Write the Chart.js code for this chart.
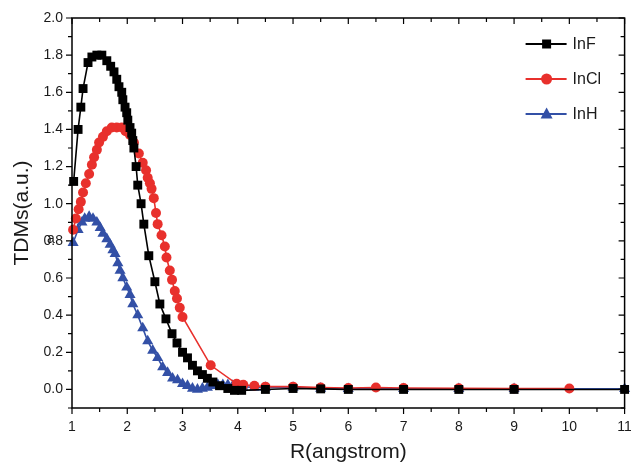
<!DOCTYPE html>
<html>
<head>
<meta charset="utf-8">
<script src="https://cdn.jsdelivr.net/npm/chart.js@4.4.1/dist/chart.umd.min.js"></script>
<style>
  html, body { margin: 0; background: #ffffff; }
  canvas { display: block; }
</style>
</head>
<body>
<canvas id="tdm" width="631" height="466"></canvas>
<script>
/* TDMs vs R for InF / InCl / InH */

const X_TICKS = [1, 2, 3, 4, 5, 6, 7, 8, 9, 10, 11];
const Y_TICKS = [0, 0.2, 0.4, 0.6, 0.8, 1.0, 1.2, 1.4, 1.6, 1.8, 2.0];

const INF_R = [1.03, 1.11, 1.16, 1.20, 1.29, 1.36, 1.45, 1.54, 1.63, 1.70, 1.76, 1.81, 1.85, 1.90, 1.92,
  1.96, 1.99, 2.01, 2.05, 2.08, 2.10, 2.12, 2.16, 2.19, 2.25, 2.30, 2.39, 2.50, 2.59, 2.70, 2.81,
  2.90, 3.00, 3.09, 3.18, 3.27, 3.36, 3.45, 3.55, 3.67, 3.82, 3.94, 4.07, 4.5, 5, 5.5, 6, 7, 8, 9, 11];
const INF_V = [1.12, 1.40, 1.52, 1.62, 1.76, 1.79, 1.80, 1.80, 1.77, 1.74, 1.71, 1.67, 1.63, 1.60, 1.56,
  1.52, 1.49, 1.45, 1.41, 1.38, 1.34, 1.30, 1.20, 1.10, 1.00, 0.89, 0.72, 0.58, 0.46, 0.38, 0.30,
  0.25, 0.20, 0.17, 0.13, 0.10, 0.08, 0.06, 0.04, 0.02, 0.005, -0.005, -0.005, 0.0, 0.005, 0.003, 0.0, 0.0, 0.0, 0.0, 0.0];

const INCL_R = [1.02, 1.07, 1.12, 1.16, 1.20, 1.25, 1.31, 1.36, 1.40, 1.45, 1.49, 1.56, 1.63, 1.72, 1.81,
  1.90, 1.97, 2.05, 2.12, 2.21, 2.28, 2.34, 2.37, 2.41, 2.44, 2.48, 2.52, 2.55, 2.62, 2.68, 2.71,
  2.77, 2.81, 2.86, 2.90, 2.95, 3.00, 3.51, 3.98, 4.1, 4.3, 4.5, 5, 5.5, 6, 6.5, 7, 8, 9, 10];
const INCL_V = [0.86, 0.92, 0.97, 1.01, 1.06, 1.11, 1.16, 1.21, 1.25, 1.29, 1.33, 1.36, 1.39, 1.41, 1.41,
  1.41, 1.39, 1.37, 1.33, 1.27, 1.22, 1.18, 1.14, 1.11, 1.08, 1.03, 0.95, 0.89, 0.83, 0.77, 0.71,
  0.64, 0.59, 0.53, 0.49, 0.44, 0.39, 0.13, 0.03, 0.025, 0.02, 0.015, 0.015, 0.01, 0.008, 0.01, 0.008, 0.006, 0.005, 0.005];

const INH_R = [1.02, 1.11, 1.18, 1.23, 1.31, 1.38, 1.45, 1.51, 1.56, 1.63, 1.69, 1.74, 1.78, 1.83, 1.87,
  1.92, 1.99, 2.05, 2.10, 2.19, 2.28, 2.37, 2.46, 2.55, 2.64, 2.73, 2.82, 2.91, 3.00, 3.09, 3.18,
  3.27, 3.36, 3.45, 3.55, 3.64, 3.73, 3.82, 3.91, 4.00, 4.09, 4.3, 4.5, 5, 5.5, 6, 7, 8, 9, 11];
const INH_V = [0.79, 0.86, 0.90, 0.92, 0.93, 0.92, 0.90, 0.87, 0.84, 0.81, 0.78, 0.75, 0.73, 0.68, 0.64,
  0.60, 0.55, 0.51, 0.46, 0.40, 0.33, 0.26, 0.21, 0.17, 0.12, 0.09, 0.06, 0.05, 0.03, 0.02, 0.005,
  0.0, 0.005, 0.01, 0.02, 0.025, 0.025, 0.025, 0.02, 0.02, 0.015, 0.01, 0.01, 0.01, 0.005, 0.003, 0.003, 0.003, 0.003, 0.003];

const FONT = "'Liberation Sans', Arial, sans-serif";
const INK  = '#1a1a1a';
const COL  = { InF: '#000000', InCl: '#e8302c', InH: '#3350a6' };

const pts = (xs, ys) => xs.map((x, i) => ({ x, y: ys[i] }));

function series(label, xs, ys, style, radius) {
  return {
    label,
    data: pts(xs, ys),
    borderColor: COL[label],
    backgroundColor: COL[label],
    borderWidth: 1.6,
    pointStyle: style,
    pointRadius: radius,
    pointBorderWidth: 0,
    tension: 0,
    clip: false,
  };
}

/* frame + origin-style inward/outward ticks */
const frame = {
  id: 'frame',
  afterDatasetsDraw(chart) {
    const { ctx, chartArea: a, scales: { x, y } } = chart;
    ctx.save();
    ctx.strokeStyle = '#000';
    ctx.lineWidth = 1.5;
    ctx.strokeRect(a.left, a.top, a.right - a.left, a.bottom - a.top);
    ctx.lineWidth = 1.2;
    ctx.beginPath();
    for (let v = 1; v <= 11.001; v += 0.5) {
      const px = x.getPixelForValue(v);
      const major = Math.abs(v - Math.round(v)) < 1e-6;
      const len = major ? 6 : 4;
      ctx.moveTo(px, a.bottom); ctx.lineTo(px, a.bottom + len);
      ctx.moveTo(px, a.top);    ctx.lineTo(px, a.top + len);
    }
    for (let k = -1; k <= 20; k++) {
      const py = y.getPixelForValue(k / 10);
      const len = k % 2 === 0 ? 6 : 4;
      ctx.moveTo(a.left, py);  ctx.lineTo(a.left - len, py);
      ctx.moveTo(a.right, py); ctx.lineTo(a.right - len, py);
    }
    ctx.stroke();
    // stray glyph sitting on the 0.8 label in the source figure
    ctx.fillStyle = INK;
    ctx.font = `14px ${FONT}`;
    ctx.textAlign = 'center';
    ctx.textBaseline = 'middle';
    ctx.fillText('a', a.left - 21, y.getPixelForValue(0.8) - 2);
    ctx.restore();
  },
};

function marker(ctx, style, cx, cy, color) {
  ctx.fillStyle = color;
  ctx.beginPath();
  if (style === 'rect') ctx.rect(cx - 4.5, cy - 4.5, 9, 9);
  else if (style === 'circle') ctx.arc(cx, cy, 5.5, 0, Math.PI * 2);
  else { ctx.moveTo(cx, cy - 6.5); ctx.lineTo(cx + 6, cy + 4.5); ctx.lineTo(cx - 6, cy + 4.5); ctx.closePath(); }
  ctx.fill();
}

/* legend drawn inside the plot, top-right */
const insideLegend = {
  id: 'insideLegend',
  afterDraw(chart) {
    const { ctx, chartArea: a } = chart;
    ctx.save();
    ctx.font = `16px ${FONT}`;
    ctx.textBaseline = 'middle';
    ctx.textAlign = 'left';
    chart.data.datasets.forEach((ds, i) => {
      const yy = a.top + 26 + i * 35;
      const x0 = a.right - 99;
      ctx.strokeStyle = ds.borderColor;
      ctx.lineWidth = 2;
      ctx.beginPath();
      ctx.moveTo(x0, yy); ctx.lineTo(x0 + 41, yy);
      ctx.stroke();
      marker(ctx, ds.pointStyle, x0 + 21, yy, ds.borderColor);
      ctx.fillStyle = INK;
      ctx.fillText(ds.label, x0 + 47, yy + 1);
    });
    ctx.restore();
  },
};

new Chart(document.getElementById('tdm'), {
  type: 'line',
  data: {
    datasets: [
      series('InF', INF_R, INF_V, 'rect', 6.3),
      series('InCl', INCL_R, INCL_V, 'circle', 5.0),
      series('InH', INH_R, INH_V, 'triangle', 6.4),
    ],
  },
  options: {
    responsive: false,
    animation: false,
    layout: { padding: { top: 18, right: 5, left: 0, bottom: 0 } },
    plugins: { legend: { display: false }, tooltip: { enabled: false } },
    scales: {
      x: {
        type: 'linear',
        min: 1, max: 11,
        afterBuildTicks: s => { s.ticks = X_TICKS.map(v => ({ value: v })); },
        afterFit: s => { s.height = 58; s.paddingLeft = 0; s.paddingRight = 0; },
        grid: { display: false, drawTicks: false },
        border: { display: false },
        ticks: { color: INK, font: { family: FONT, size: 14 }, padding: 11, maxRotation: 0, autoSkip: false },
        title: { display: true, text: 'R(angstrom)', color: INK, font: { family: FONT, size: 21 }, padding: { top: 0, bottom: 1 } },
      },
      y: {
        type: 'linear',
        min: -0.1, max: 2.0,
        afterBuildTicks: s => { s.ticks = Y_TICKS.map(v => ({ value: v })); },
        afterFit: s => { s.width = 72; s.paddingTop = 0; s.paddingBottom = 0; },
        grid: { display: false, drawTicks: false },
        border: { display: false },
        ticks: { color: INK, font: { family: FONT, size: 14 }, padding: 9, callback: v => v.toFixed(1) },
        title: { display: true, text: 'TDMs(a.u.)', color: INK, font: { family: FONT, size: 21 }, padding: { top: 10, bottom: 0 } },
      },
    },
  },
  plugins: [frame, insideLegend],
});
</script>
</body>
</html>
